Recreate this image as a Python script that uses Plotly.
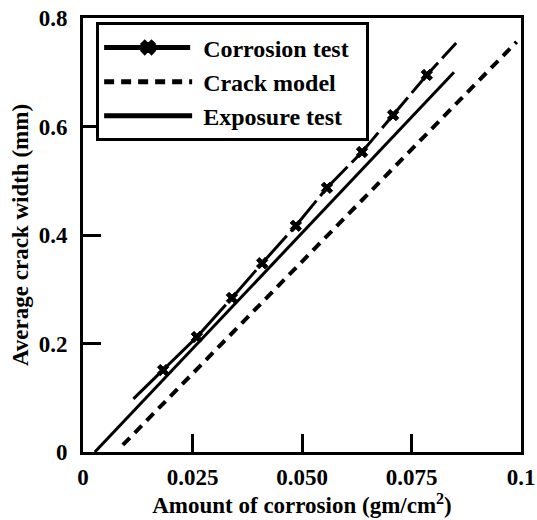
import plotly.graph_objects as go

# Data
corrosion_x = [0.0115, 0.0183, 0.0260, 0.0340, 0.0409, 0.0486, 0.0557, 0.0637, 0.0708, 0.0785, 0.0852]
corrosion_y = [0.098, 0.151, 0.212, 0.284, 0.348, 0.417, 0.487, 0.553, 0.621, 0.695, 0.754]
corrosion_marker = [0, 1, 1, 1, 1, 1, 1, 1, 1, 1, 0]  # 1 = marker drawn

crack_x = [0.0091, 0.0990]
crack_y = [0.013, 0.756]

exposure_x = [0.0027, 0.0847]
exposure_y = [0.000, 0.700]

x_tickvals = [0, 0.025, 0.05, 0.075, 0.1]
x_ticktext = ["0", "0.025", "0.050", "0.075", "0.1"]
y_tickvals = [0, 0.2, 0.4, 0.6, 0.8]
y_ticktext = ["0", "0.2", "0.4", "0.6", "0.8"]

FONT = "Liberation Serif"
NB = "\u00a0"

fig = go.Figure()
fig.add_trace(go.Scatter(
    x=corrosion_x, y=corrosion_y, mode="lines+markers",
    name=NB + "Corrosion test" + NB * 2,
    line=dict(color="black", width=3, dash="40px,6px"),
    marker=dict(symbol="x", size=[10 * m for m in corrosion_marker],
                color="black", opacity=1, line=dict(width=1, color="black")),
    legendgroup="a",
))
fig.add_trace(go.Scatter(
    x=crack_x, y=crack_y, mode="lines", name=NB + "Crack model",
    line=dict(color="black", width=4, dash="10px,7px"),
    legendgroup="b",
))
fig.add_trace(go.Scatter(
    x=exposure_x, y=exposure_y, mode="lines", name=NB + "Exposure test",
    line=dict(color="black", width=3),
    legendgroup="c",
))

axis_common = dict(
    showline=True, linecolor="black", linewidth=3, mirror=True,
    ticks="inside", ticklen=18, tickwidth=3, tickcolor="black",
    showgrid=False, zeroline=False, automargin=False,
    ticklabeloverflow="allow",
    tickfont=dict(family=FONT, size=23, color="black", weight="bold"),
)

fig.update_xaxes(
    range=[0, 0.1], tickvals=x_tickvals, ticktext=x_ticktext,
    ticklabelstandoff=2,
    title=dict(text="Amount of corrosion (gm/cm<sup>2</sup>)",
               font=dict(family=FONT, size=23, color="black", weight="bold"),
               standoff=8),
    **axis_common,
)
fig.update_yaxes(
    range=[0, 0.8], tickvals=y_tickvals, ticktext=y_ticktext,
    ticklabelstandoff=8,
    title=dict(text="Average crack width (mm)",
               font=dict(family=FONT, size=23, color="black", weight="bold"),
               standoff=4),
    **axis_common,
)

fig.update_layout(
    width=537, height=520,
    margin=dict(l=83, r=16, t=18, b=68),
    paper_bgcolor="white", plot_bgcolor="white",
    showlegend=True,
    legend=dict(
        x=0.03, y=0.99, xanchor="left", yanchor="top",
        bgcolor="white", bordercolor="black", borderwidth=3,
        font=dict(family=FONT, size=24, color="black", weight="bold"),
        itemwidth=88, traceorder="grouped", tracegroupgap=0,
        itemsizing="constant",
    ),
)

# remove the default 8px page margin so the figure sits at the window's corner
fig.write_html("out.html",
               config={"displayModeBar": False},
               post_script="document.body.style.margin='0';document.body.style.overflow='hidden';")
